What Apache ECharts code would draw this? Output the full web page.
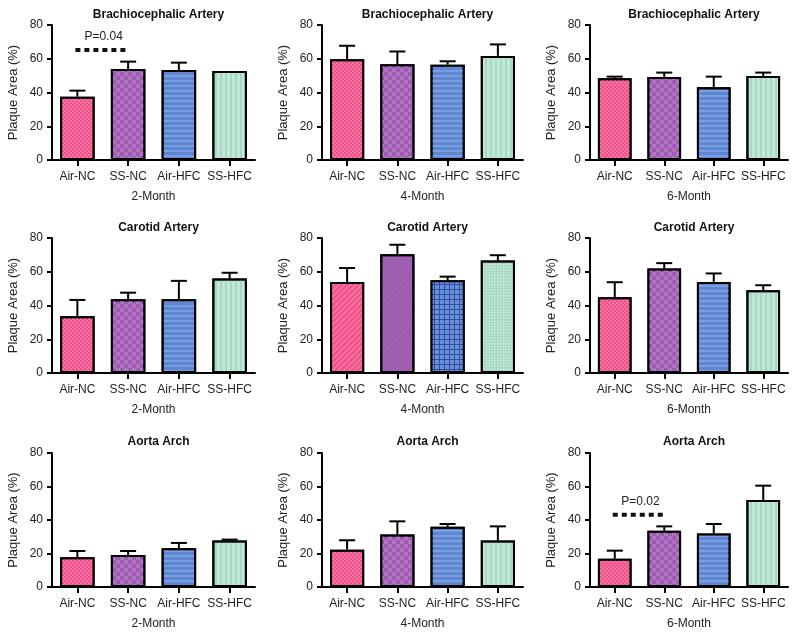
<!DOCTYPE html>
<html>
<head>
<meta charset="utf-8">
<script src="https://cdn.jsdelivr.net/npm/echarts@6/dist/echarts.min.js"></script>
<style>html,body{margin:0;padding:0;background:#fff}#c{width:800px;height:635px}</style>
</head>
<body>
<div id="c"></div>
<script>
const categories = ['Air-NC', 'SS-NC', 'Air-HFC', 'SS-HFC'];
const months = ['2-Month', '4-Month', '6-Month'];
const arteries = ['Brachiocephalic Artery', 'Carotid Artery', 'Aorta Arch'];
const yTicks = [0, 20, 40, 60, 80];

// means per month (2, 4, 6)
const brachioMean = [[37.5, 53.9, 53.3, 52.7], [59.7, 56.7, 56.5, 61.7], [48.4, 49.2, 43.1, 49.8]];
const brachioErr  = [[3.6, 4.4, 4.4, 0.0], [8.0, 7.6, 2.0, 6.8], [1.0, 2.6, 6.3, 2.0]];
const carotidMean = [[33.7, 43.7, 43.7, 56.0], [53.9, 70.4, 54.9, 66.6], [44.9, 61.9, 54.0, 49.0]];
const carotidErr  = [[9.6, 3.9, 10.9, 3.4], [8.3, 5.6, 2.2, 3.2], [8.9, 3.2, 5.0, 3.0]];
const aortaMean   = [[17.7, 19.1, 23.1, 27.7], [22.3, 31.4, 36.0, 27.7], [16.9, 33.6, 32.0, 51.9]];
const aortaErr    = [[3.8, 2.4, 3.2, 0.6], [5.6, 7.8, 1.6, 8.5], [4.8, 2.6, 5.6, 8.6]];

// significance annotations
const sigRows = [0, 2];
const sigCols = [0, 2];
const sigFrom = [0, 0];
const sigTo = [1, 1];
const sigLevel = [65.2, 43.2];
const sigLabels = ['P=0.04', 'P=0.02'];

const means = [brachioMean, carotidMean, aortaMean];
const errs = [brachioErr, carotidErr, aortaErr];

const FONT = 'Liberation Sans';
const colLeft = [52, 322, 590];
const colWidth = [203, 201, 198];
const rowTop = [25, 238, 453];
const rowHeight = [135, 135, 134];
const titleTop = [4, 217, 431];

const baseColors = ['#f0508a', '#9e5cb0', '#5f86d0', '#c3e8d8'];
function decalFor(ci, special) {
  if (special) {
    if (ci === 0) return {symbol: 'rect', symbolSize: 1, color: 'rgba(255,160,195,0.4)', dashArrayX: [1, 0], dashArrayY: [1.5, 2], rotation: -Math.PI / 4};
    if (ci === 1) return {symbol: 'rect', symbolSize: 1, color: 'rgba(190,130,205,0.25)', dashArrayX: [1, 0], dashArrayY: [1, 3], rotation: -Math.PI / 4};
    if (ci === 2) return {symbol: 'rect', symbolSize: 1, color: 'rgba(110,150,225,0.9)', dashArrayX: [[3.5, 1]], dashArrayY: [3.5, 1]};
    return {symbol: 'rect', symbolSize: 1, color: 'rgba(120,190,160,0.45)', dashArrayX: [[1.5, 1.5], [0, 1.5, 1.5, 0]], dashArrayY: [1.5, 0], rotation: Math.PI / 4};
  }
  if (ci === 0) return {symbol: 'rect', symbolSize: 1, color: 'rgba(255,160,195,0.45)', dashArrayX: [[2, 2], [0, 2, 2, 0]], dashArrayY: [2, 0]};
  if (ci === 1) return {symbol: 'rect', symbolSize: 1, color: 'rgba(190,130,210,0.6)', dashArrayX: [[4, 4], [0, 4, 4, 0]], dashArrayY: [4, 0]};
  if (ci === 2) return {symbol: 'rect', symbolSize: 1, color: 'rgba(140,175,235,0.6)', dashArrayX: [1, 0], dashArrayY: [2, 3]};
  return {symbol: 'rect', symbolSize: 1, color: 'rgba(140,205,175,0.55)', dashArrayX: [1.5, 3], dashArrayY: [1, 0]};
}
function baseColorFor(ci, special) {
  if (special && ci === 2) return '#2f4f9e';
  return baseColors[ci];
}

const grid = [], xAxis = [], yAxis = [], series = [], title = [];
let idx = 0;
for (let r = 0; r < 3; r++) {
  for (let c = 0; c < 3; c++) {
    grid.push({left: colLeft[c], top: rowTop[r], width: colWidth[c], height: rowHeight[r], containLabel: false});
    title.push({
      text: arteries[r], left: colLeft[c] + colWidth[c] / 2, top: titleTop[r], textAlign: 'center',
      textStyle: {fontFamily: FONT, fontSize: 12, fontWeight: 'bold', color: '#111'}
    });
    xAxis.push({
      type: 'category', gridIndex: idx, data: categories,
      name: months[c], nameLocation: 'middle', nameGap: 31,
      nameTextStyle: {fontFamily: FONT, fontSize: 12, color: '#222'},
      axisLine: {show: true, lineStyle: {color: '#000', width: 2}},
      axisTick: {show: true, alignWithLabel: true, length: 6, lineStyle: {color: '#000', width: 2}},
      axisLabel: {fontFamily: FONT, fontSize: 12, color: '#222', margin: 11, interval: 0},
      splitLine: {show: false}
    });
    yAxis.push({
      type: 'value', gridIndex: idx, min: yTicks[0], max: yTicks[yTicks.length - 1], interval: 20,
      name: 'Plaque Area (%)', nameLocation: 'middle', nameGap: 32,
      nameTextStyle: {fontFamily: FONT, fontSize: 13, color: '#222'},
      axisLine: {show: true, lineStyle: {color: '#000', width: 2}},
      axisTick: {show: true, length: 5, lineStyle: {color: '#000', width: 2}},
      axisLabel: {fontFamily: FONT, fontSize: 12, color: '#222', margin: 9},
      splitLine: {show: false}
    });
    const m = means[r][c], e = errs[r][c];
    const special = (r === 1 && c === 1);
    series.push({
      type: 'bar', xAxisIndex: idx, yAxisIndex: idx, barWidth: '68%',
      data: m.map((v, i) => ({value: v, itemStyle: {color: baseColorFor(i, special), borderColor: '#000', borderWidth: 2, decal: decalFor(i, special)}})),
      silent: true, z: 2
    });
    series.push({
      type: 'custom', xAxisIndex: idx, yAxisIndex: idx, z: 3, silent: true,
      encode: {x: 0, y: [1, 2]},
      data: m.map((v, i) => [i, v, v + e[i]]),
      renderItem: function (params, api) {
        const p0 = api.coord([api.value(0), api.value(1)]);
        const p1 = api.coord([api.value(0), api.value(2)]);
        if (Math.abs(p0[1] - p1[1]) < 0.5) return null;
        const st = {stroke: '#000', lineWidth: 2};
        return {type: 'group', children: [
          {type: 'line', shape: {x1: p0[0], y1: p0[1], x2: p1[0], y2: p1[1]}, style: st},
          {type: 'line', shape: {x1: p1[0] - 8, y1: p1[1], x2: p1[0] + 8, y2: p1[1]}, style: st}
        ]};
      }
    });
    for (let s = 0; s < sigLabels.length; s++) {
      if (sigRows[s] === r && sigCols[s] === c) {
        series.push({
          type: 'custom', xAxisIndex: idx, yAxisIndex: idx, z: 4, silent: true,
          encode: {x: [0, 1], y: 2},
          data: [[sigFrom[s], sigTo[s], sigLevel[s], sigLabels[s]]],
          renderItem: function (params, api) {
            const a = api.coord([api.value(0), api.value(2)]);
            const b = api.coord([api.value(1), api.value(2)]);
            return {type: 'group', children: [
              {type: 'line', shape: {x1: a[0] - 2, y1: a[1], x2: b[0], y2: b[1]}, style: {stroke: '#111', lineWidth: 4, lineDash: [5, 4]}},
              {type: 'text', x: (a[0] + b[0]) / 2 + 1, y: a[1] - 13, style: {text: sigLabels[s], fontFamily: FONT, fontSize: 12, fill: '#222', textAlign: 'center', textVerticalAlign: 'middle'}}
            ]};
          }
        });
      }
    }
    idx++;
  }
}

const chart = echarts.init(document.getElementById('c'), null, {renderer: 'canvas'});
chart.setOption({animation: false, backgroundColor: '#fff', title, grid, xAxis, yAxis, series});
</script>
</body>
</html>
